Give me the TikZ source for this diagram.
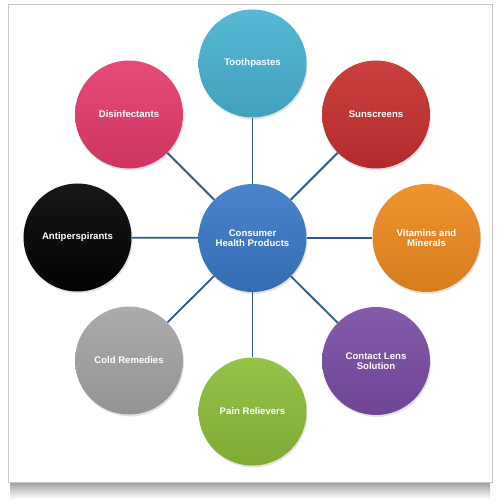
\documentclass[tikz,border=0pt]{standalone}
\usepackage{fontspec}
\setmainfont{Liberation Sans}
\usetikzlibrary{shadows}
\definecolor{cCenter}{HTML}{3A79C6}
\definecolor{cTooth}{HTML}{48B2D1}
\definecolor{cSun}{HTML}{C6302F}
\definecolor{cVit}{HTML}{EE8A1F}
\definecolor{cLens}{HTML}{7A4DA4}
\definecolor{cPain}{HTML}{8CBD39}
\definecolor{cCold}{HTML}{A4A4A4}
\definecolor{cAnti}{HTML}{030303}
\definecolor{cDis}{HTML}{E43C6B}
\definecolor{cLink}{HTML}{2C5A8C}
\tikzset{
  bub/.style={circle, minimum size=108bp, inner sep=0pt, draw=none,
    top color=#1!92!white, middle color=#1, bottom color=#1!90!black,
    drop shadow={opacity=0.22, shadow xshift=1bp, shadow yshift=-2bp},
    text=white, align=center,
    font=\bfseries\fontsize{9.6bp}{10bp}\selectfont},
  link/.style={draw=cLink, line width=1.8bp}
}
\begin{document}
\begin{tikzpicture}[x=1bp,y=-1bp]
\useasboundingbox (0,0) rectangle (500,504);
% card and its shadow
\shade[top color=black!40, bottom color=white] (10,481) rectangle (490,499);
\draw[draw=black!22, fill=white, line width=0.8bp] (8,4) rectangle (492,482);
% nodes
\node[bub=cCenter] (c) at (252.5,238) {Consumer\\Health Products};
\node[bub=cTooth] (t) at (252.5,63.5) {Toothpastes};
\node[bub=cSun] (s) at (376,114.5) {Sunscreens};
\node[bub=cVit] (v) at (426.5,238) {Vitamins and\\Minerals};
\node[bub=cLens] (l) at (376,361) {Contact Lens\\Solution};
\node[bub=cPain] (p) at (252.5,411.5) {Pain Relievers};
\node[bub=cCold] (o) at (129,360.5) {Cold Remedies};
\node[bub=cAnti] (a) at (77.5,237.5) {Antiperspirants};
\node[bub=cDis] (d) at (129,114.5) {Disinfectants};
% connectors
\foreach \n in {t,s,v,l,p,o,a,d} \draw[link] (c) -- (\n);
\end{tikzpicture}
\end{document}
